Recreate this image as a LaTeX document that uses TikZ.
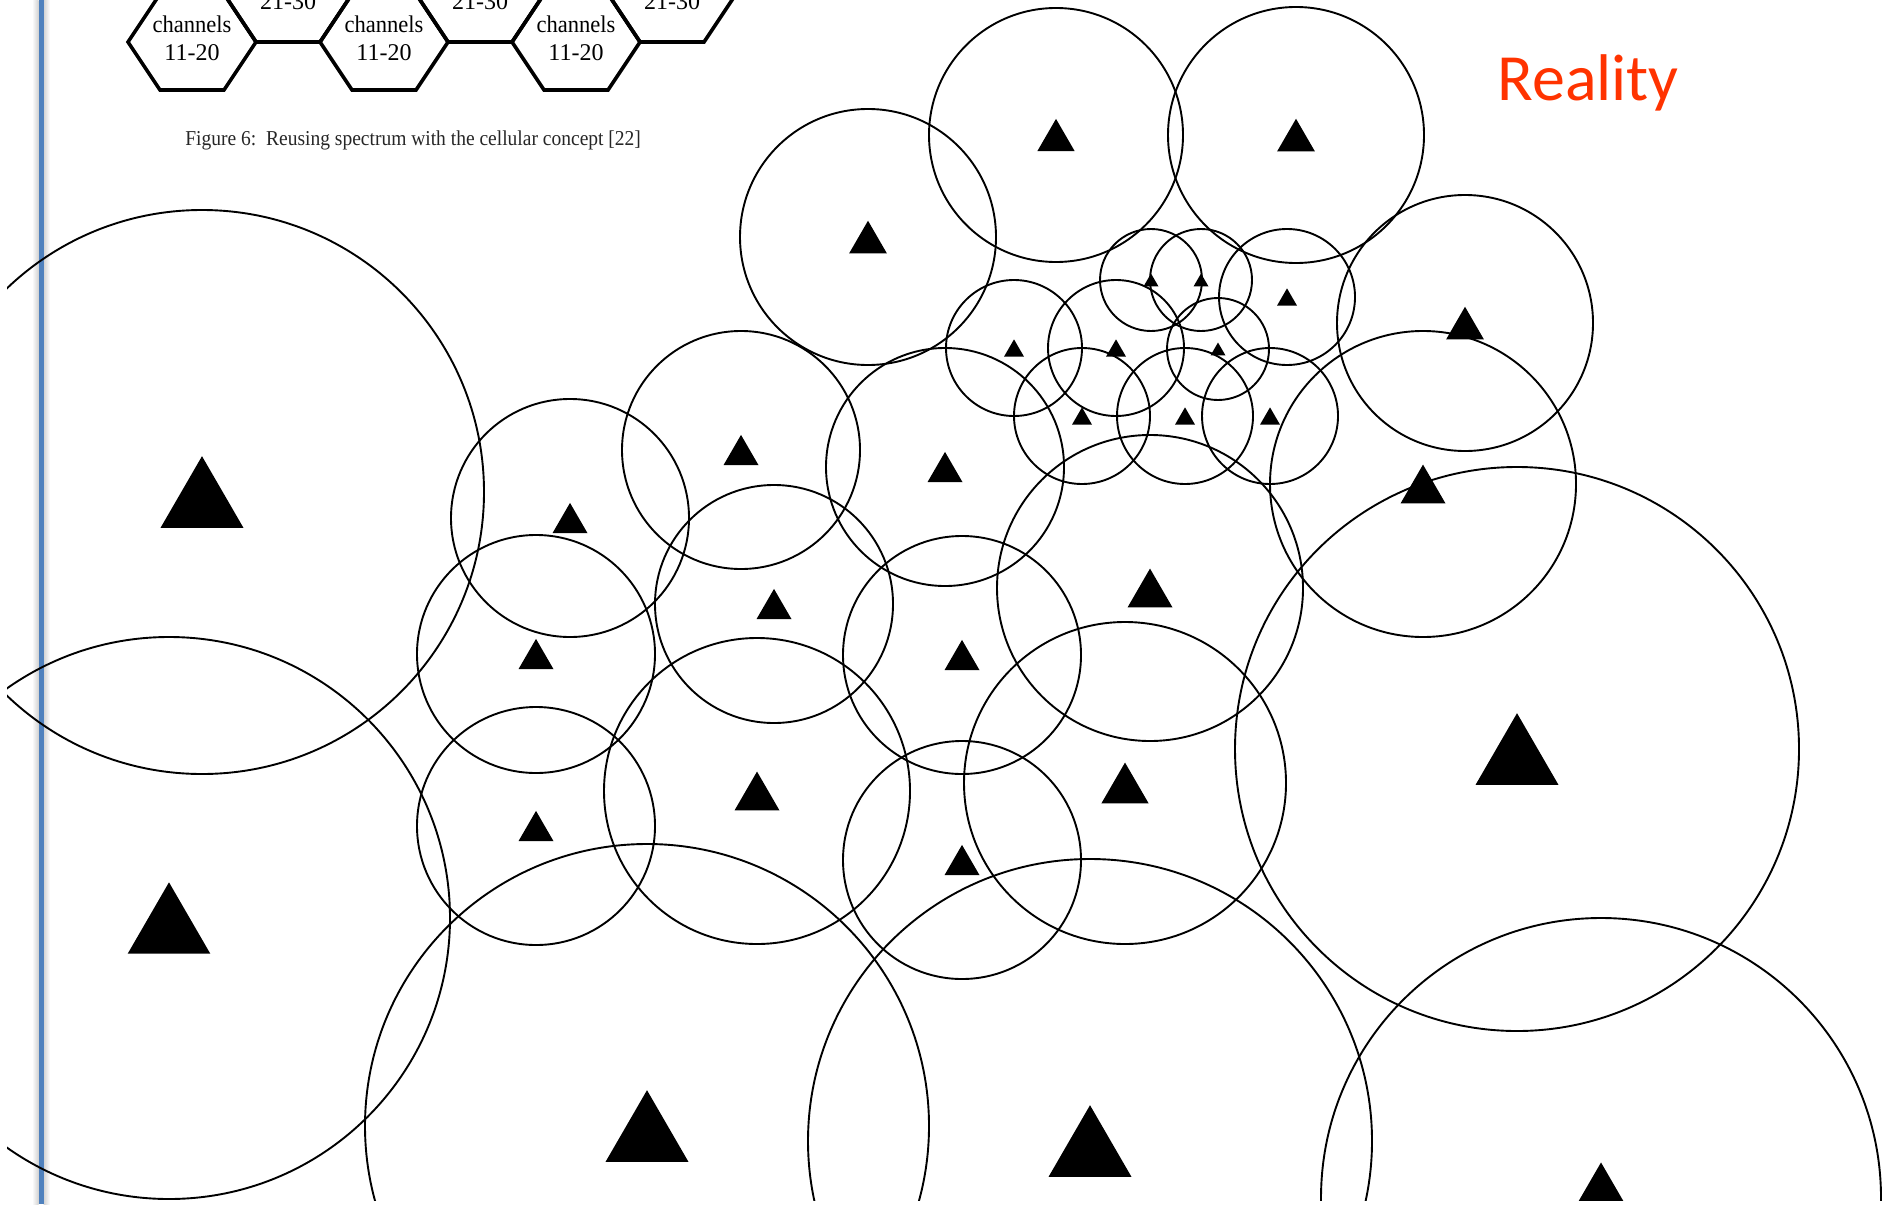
\documentclass[tikz,border=0pt]{standalone}
\usepackage{fontspec}
\setmainfont{Liberation Serif}
\newfontfamily\slidefont{Carlito}
\usepackage{tikz}
\usetikzlibrary{positioning}

\definecolor{ruleblue}{RGB}{79,129,189}
\definecolor{titlered}{RGB}{255,51,0}

\begin{document}
\begin{tikzpicture}[x=0.5pt, y=-0.5pt,
	cell/.style={draw=black, line width=0.95pt},
	bts/.style={fill=black},
	hexcell/.style={draw=black, line width=1.8pt, line join=miter},
	hexlabel/.style={align=center, inner sep=0pt, font=\fontsize{12}{14}\selectfont}]
\useasboundingbox (0,0) rectangle (1888,1204);

% margin rule
\shade[left color=white, right color=black!18] (32,0) rectangle (38.5,1204);
\shade[left color=black!18, right color=white] (43.5,0) rectangle (50,1204);
\fill[ruleblue] (38.5,0) rectangle (43.5,1204);

% hexagon strip and its caption
\begin{scope}
\clip (0,0) rectangle (800,200);
\foreach \k in {0,1,2} {
	\pgfmathsetmacro{\hx}{192+192*\k}
	\draw[hexcell] (\hx-64,42) -- (\hx-32,-6) -- (\hx+32,-6) -- (\hx+64,42) -- (\hx+32,90) -- (\hx-32,90) -- cycle;
	\draw[hexcell] (\hx+64,42) -- (\hx+32,-6) -- (\hx+64,-54) -- (\hx+128,-54) -- (\hx+160,-6) -- (\hx+128,42) -- cycle;
	\node[hexlabel] (low\k) at (\hx,38.5) {\scalebox{0.94}[1]{channels}\\11-20};
	\node[hexlabel, anchor=base] (up\k) at (\hx+96,10) {21-30};
}
\end{scope}
\node[anchor=base west, inner sep=0pt, text=black!85, font=\fontsize{10.6}{12}\selectfont] (caption) at (185,146)
	{\scalebox{0.92}[1]{Figure 6:\ \ Reusing spectrum with the cellular concept [22]}};

\node[anchor=base west, inner sep=0pt, text=titlered, font=\slidefont\fontsize{33}{38}\selectfont] (reality) at (1497,101) {Reality};

% base stations and their coverage
\begin{scope}
\clip (7,0) rectangle (1888,1200);
\foreach \x/\y/\r in {
	202/492/282, 169/918/281, 647/1126/282, 1090/1141/282, 1601/1198/280, 1517/749/282,
	868/237/128, 1056/135/127, 1296/135/128, 1465/323/128,
	1423/484/153, 1150/588/153, 1125/783/161, 757/791/153,
	962/655/119, 962/860/119, 945/467/119, 741/450/119, 774/604/119,
	570/518/119, 536/654/119, 536/826/119,
	1014/348/68, 1116/348/68, 1151/280/51, 1201/280/51, 1287/297/68,
	1218/349/51, 1082/416/68, 1185/416/68, 1270/416/68} {
	\draw[cell] (\x,\y) circle[radius=\r];
	\pgfmathsetmacro{\w}{0.147*\r}
	\pgfmathsetmacro{\h}{0.127*\r}
	\fill[bts] (\x-\w,\y+\h) -- (\x+\w,\y+\h) -- (\x,\y-\h) -- cycle;
}
\end{scope}
\end{tikzpicture}
\end{document}
